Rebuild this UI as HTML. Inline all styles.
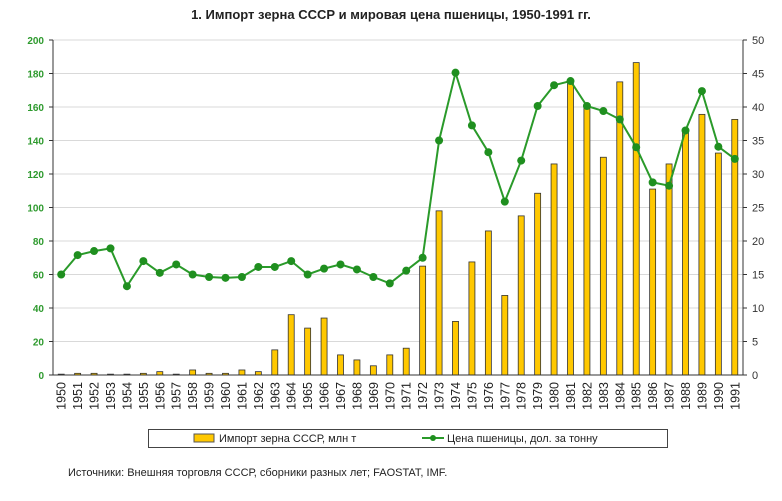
<!DOCTYPE html>
<html><head><meta charset="utf-8"><style>
html,body{margin:0;padding:0;background:#fff;width:782px;height:501px;overflow:hidden}
svg{display:block;font-family:"Liberation Sans","DejaVu Sans",sans-serif}
</style></head><body>
<svg id="c" width="782" height="501" xmlns="http://www.w3.org/2000/svg"></svg>
<script>
const bars=[0.5,1,1,0.5,0.5,1,2,0.5,3,1,1,3,2,15,36,28,34,12,9,5.5,12,16,65,98,32,67.5,86,47.5,95,108.5,126,174,161,130,175,186.5,111,126,144.6,155.6,132.5,152.6];
const line=[60,71.6,74,75.6,53,68,61,66,60,58.5,58,58.5,64.5,64.5,68,60,63.5,66,63,58.5,54.7,62.3,70,140,180.5,149,133,103.5,128,160.6,173,175.5,160.6,157.6,152.6,136,115,113,146,169.5,136.3,129];
const L=53,R=743,T=40,B=375,n=42,w=(R-L)/n,k=(B-T)/200;
let s='';
s+='<text x="391" y="19" text-anchor="middle" font-size="13" font-weight="bold" fill="#222">1. Импорт зерна СССР и мировая цена пшеницы, 1950-1991 гг.</text>';
for(let i=0;i<=10;i++){const y=B-i*20*k;
 if(i>0)s+=`<line x1="${L}" x2="${R}" y1="${y}" y2="${y}" stroke="#d9d9d9" stroke-width="1"/>`;
 s+=`<line x1="${L-4}" x2="${L}" y1="${y}" y2="${y}" stroke="#333"/>`;
 s+=`<line x1="${R}" x2="${R+4}" y1="${y}" y2="${y}" stroke="#333"/>`;
 s+=`<text x="${L-9}" y="${y+4}" text-anchor="end" font-size="10" font-weight="bold" fill="#2e9a2e">${i*20}</text>`;
 s+=`<text x="${R+9}" y="${y+4}" font-size="11" fill="#333">${i*5}</text>`;}
for(let i=0;i<n;i++){const cx=L+w*(i+0.5),h=bars[i]*k;
 s+=`<rect x="${cx-3}" y="${B-h}" width="6" height="${h}" fill="#ffc800" stroke="#333" stroke-width="0.8"/>`;
 s+=`<text transform="translate(${cx+4.5},${B+7}) rotate(-90)" text-anchor="end" font-size="12.5" fill="#222">${1950+i}</text>`;}
s+=`<line x1="${L}" x2="${L}" y1="${T}" y2="${B}" stroke="#333"/><line x1="${R}" x2="${R}" y1="${T}" y2="${B}" stroke="#333"/><line x1="${L}" x2="${R}" y1="${B}" y2="${B}" stroke="#333"/>`;
let p=line.map((v,i)=>`${(L+w*(i+0.5)).toFixed(1)},${(B-v*k).toFixed(1)}`).join(' ');
s+=`<polyline points="${p}" fill="none" stroke="#2a9a2a" stroke-width="2"/>`;
line.forEach((v,i)=>{s+=`<circle cx="${L+w*(i+0.5)}" cy="${B-v*k}" r="4" fill="#1f8f1f"/>`;});
s+='<rect x="148.5" y="429.5" width="519" height="18" fill="#fff" stroke="#444"/>';
s+='<rect x="194" y="434" width="20" height="8" fill="#ffc800" stroke="#555"/>';
s+='<text x="219" y="442" font-size="11" fill="#222">Импорт зерна СССР, млн т</text>';
s+='<line x1="422" x2="444" y1="438" y2="438" stroke="#2a9a2a" stroke-width="2"/><circle cx="433" cy="438" r="3" fill="#1f8f1f"/>';
s+='<text x="447" y="442" font-size="11" fill="#222">Цена пшеницы, дол. за тонну</text>';
s+='<text x="68" y="476" font-size="11" fill="#222">Источники: Внешняя торговля СССР, сборники разных лет; FAOSTAT, IMF.</text>';
document.getElementById('c').innerHTML=s;
</script>
</body></html>
